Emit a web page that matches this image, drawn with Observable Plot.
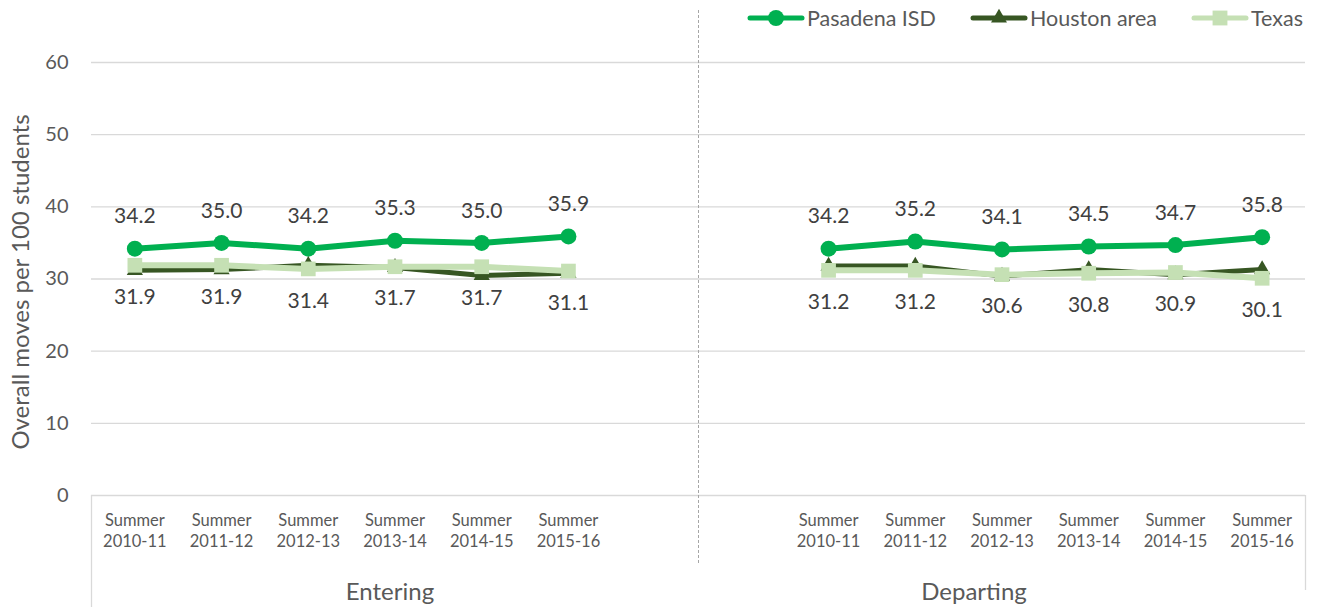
<!DOCTYPE html>
<html>
<head>
<meta charset="utf-8">
<script src="https://cdn.jsdelivr.net/npm/d3@7"></script>
<script src="https://cdn.jsdelivr.net/npm/@observablehq/plot@0.6"></script>
<style>
  html, body { margin: 0; padding: 0; background: #fff; }
  #wrap { position: relative; width: 1320px; height: 607px; font-family: Lato, "Open Sans", sans-serif; }
  .item { position: absolute; top: 6px; height: 24px; display: flex; align-items: center; font-size: 21.5px; color: #595959; white-space: nowrap; }
  .item svg { margin-right: 2px; }
</style>
</head>
<body>
<div id="wrap">
  <div id="legend"></div>
  <div id="chart"></div>
</div>
<script>
const groups = ["Entering", "Departing"];
const periods = ["Summer\n2010-11", "Summer\n2011-12", "Summer\n2012-13", "Summer\n2013-14", "Summer\n2014-15", "Summer\n2015-16"];
const seriesNames = ["Pasadena ISD", "Houston area", "Texas"];
const seriesColors = ["#00B050", "#375623", "#C5E0B4"];

const pasadenaEntering = [34.2, 35.0, 34.2, 35.3, 35.0, 35.9];
const pasadenaDeparting = [34.2, 35.2, 34.1, 34.5, 34.7, 35.8];
const houstonEntering = [31.2, 31.3, 31.9, 31.6, 30.5, 30.8];
const houstonDeparting = [31.8, 31.8, 30.4, 31.3, 30.6, 31.3];
const texasEntering = [31.9, 31.9, 31.4, 31.7, 31.7, 31.1];
const texasDeparting = [31.2, 31.2, 30.6, 30.8, 30.9, 30.1];
const yTicks = [0, 10, 20, 30, 40, 50, 60];

const slotsPerGroup = periods.length + 2;
function rows(enter, depart, name) {
  const out = [];
  [enter, depart].forEach((arr, gi) => arr.forEach((v, pi) => out.push({
    series: name, group: groups[gi], period: periods[pi], slot: gi * slotsPerGroup + pi, v
  })));
  return out;
}
const pas = rows(pasadenaEntering, pasadenaDeparting, seriesNames[0]);
const hou = rows(houstonEntering, houstonDeparting, seriesNames[1]);
const tex = rows(texasEntering, texasDeparting, seriesNames[2]);
const nSlots = slotsPerGroup * 2 - 2;
const divider = periods.length + 0.5;
const groupCenters = [(-0.5 + divider) / 2, (divider + nSlots - 0.5) / 2];

const font = "Lato, 'Open Sans', sans-serif";
const plot = Plot.plot({
  width: 1320, height: 607,
  marginTop: 62, marginBottom: 112, marginLeft: 91, marginRight: 15,
  style: { fontFamily: font, background: "#fff", overflow: "visible" },
  x: { type: "linear", domain: [-0.5, nSlots - 0.5], axis: null },
  y: { domain: [0, 60], ticks: yTicks },
  marks: [
    Plot.gridY(yTicks, { stroke: "#d9d9d9", strokeOpacity: 1, strokeWidth: 1.3 }),
    Plot.axisY(yTicks, { tickSize: 0, tickPadding: 23, fontSize: 20, fill: "#595959", label: null }),
    Plot.text(["Overall moves per 100 students"], { frameAnchor: "left", textAnchor: "middle", rotate: -90, dx: -70, dy: 3, fontSize: 24, fill: "#595959" }),
    Plot.ruleX([-0.5], { stroke: "#d9d9d9", strokeWidth: 1.3, insetTop: 433, insetBottom: -112 }),
    Plot.ruleX([nSlots - 0.5], { stroke: "#d9d9d9", strokeWidth: 1.3, insetTop: 433, insetBottom: -95 }),
    Plot.ruleX([divider], { stroke: "#a6a6a6", strokeDasharray: "3,2", insetTop: -52, insetBottom: -70 }),
    Plot.text(pas, { x: "slot", text: "period", frameAnchor: "bottom", lineAnchor: "middle", dy: 34, fontSize: 16.5, lineHeight: 1.33, fill: "#595959" }),
    Plot.text([groups[0]], { x: [groupCenters[0]], frameAnchor: "bottom", lineAnchor: "middle", dy: 97, dx: -5, fontSize: 24, fill: "#595959" }),
    Plot.text([groups[1]], { x: [groupCenters[1]], frameAnchor: "bottom", lineAnchor: "middle", dy: 97, dx: -28, fontSize: 24, fill: "#595959" }),
    // Pasadena
    Plot.line(pas, { x: "slot", y: "v", z: "group", stroke: seriesColors[0], strokeWidth: 6 }),
    Plot.dot(pas, { x: "slot", y: "v", r: 8, fill: seriesColors[0], symbol: "circle" }),
    // Houston
    Plot.line(hou, { x: "slot", y: "v", z: "group", stroke: seriesColors[1], strokeWidth: 5 }),
    Plot.dot(hou, { x: "slot", y: "v", r: 6, fill: seriesColors[1], symbol: "triangle" }),
    // Texas
    Plot.line(tex, { x: "slot", y: "v", z: "group", stroke: seriesColors[2], strokeWidth: 6 }),
    Plot.dot(tex, { x: "slot", y: "v", r: 8.3, fill: seriesColors[2], symbol: "square" }),
    // labels
    Plot.text(pas, { x: "slot", y: "v", text: d => d.v.toFixed(1), dy: -32, fontSize: 21, fill: "#404040" }),
    Plot.text(tex, { x: "slot", y: "v", text: d => d.v.toFixed(1), dy: 32, fontSize: 21, fill: "#404040" })
  ]
});
document.getElementById("chart").appendChild(plot);

// legend
const legend = d3.select("#legend");
const symbols = [d3.symbolCircle, d3.symbolTriangle, d3.symbolSquare];
const symSizes = [200, 110, 220];
const legendLeft = [747, 970, 1191];
seriesNames.forEach((name, i) => {
  const item = legend.append("div").attr("class", "item").style("left", legendLeft[i] + "px");
  const svg = item.append("svg").attr("width", 58).attr("height", 24);
  svg.append("line").attr("x1", 3).attr("x2", 55).attr("y1", 12).attr("y2", 12)
    .attr("stroke", seriesColors[i]).attr("stroke-width", 5).attr("stroke-linecap", "round");
  svg.append("path").attr("d", d3.symbol(symbols[i], symSizes[i])()).attr("transform", "translate(29,12)")
    .attr("fill", seriesColors[i]);
  item.append("span").text(name);
});
</script>
</body>
</html>
